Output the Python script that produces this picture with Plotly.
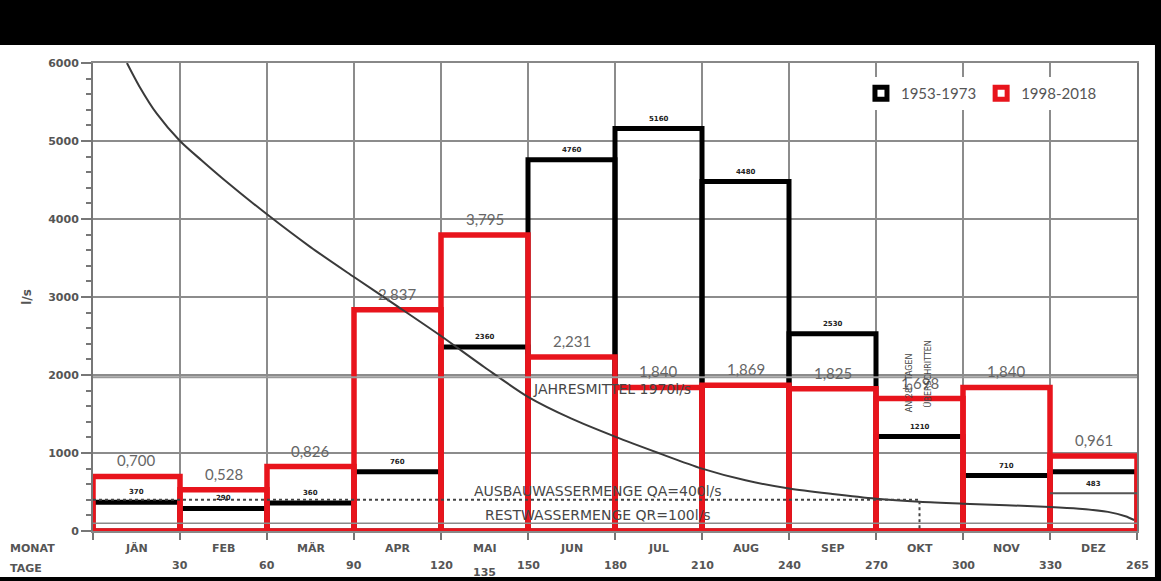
import plotly.graph_objects as go

# --- data -------------------------------------------------------------
months = ["JÄN", "FEB", "MÄR", "APR", "MAI", "JUN", "JUL", "AUG", "SEP", "OKT", "NOV", "DEZ"]
month_start_day = [0, 30, 60, 90, 120, 150, 180, 210, 240, 270, 300, 330]
day_ticks = [30, 60, 90, 120, 150, 180, 210, 240, 270, 300, 330, 360]
day_tick_labels = ["30", "60", "90", "120", "150", "180", "210", "240", "270", "300", "330", "265"]

# monthly mean discharge 1953-1973 in l/s
flow_1953_1973 = [370, 290, 360, 760, 2360, 4760, 5160, 4480, 2530, 1210, 710, 760]
show_label_1953_1973 = [True] * 11 + [False]

# monthly mean discharge 1998-2018 in m³/s
flow_1998_2018 = [0.700, 0.528, 0.826, 2.837, 3.795, 2.231, 1.840, 1.869, 1.825, 1.698, 1.840, 0.961]

# flow duration curve (days exceeded, l/s)
dur_days = [11.7, 16, 22, 30, 37.5, 45, 60, 75, 90, 105, 120, 135, 150, 165, 180, 195,
            210, 225, 240, 255, 270, 285, 300, 315, 330, 340, 350, 356, 359]
dur_flow = [6000, 5700, 5350, 5000, 4750, 4510, 4060, 3640, 3256, 2880, 2500, 2100, 1720,
            1440, 1210, 1000, 800, 650, 545, 475, 415, 375, 350, 330, 308, 285, 245, 190, 141]

annual_mean = 1970      # l/s
qa_design = 400         # l/s
qr_residual = 100       # l/s
qa_days = 285           # days with flow above QA
dec_extra = 483         # l/s

# --- styling ------------------------------------------------------------
RED = "#e8141c"
GRID = "#8c8c8c"
TXT = "#555555"

centers = [d + 15 for d in month_start_day]
red_ls = [v * 1000 for v in flow_1998_2018]

fig = go.Figure()

fig.add_trace(go.Bar(
    x=centers, y=flow_1953_1973, width=30, name="1953-1973",
    marker=dict(color="rgba(0,0,0,0)", line=dict(color="black", width=5)),
    hoverinfo="skip",
))
fig.add_trace(go.Bar(
    x=centers, y=red_ls, width=30, name="1998-2018",
    marker=dict(color="rgba(0,0,0,0)", line=dict(color=RED, width=5.5)),
    hoverinfo="skip",
))

# duration curve
fig.add_trace(go.Scatter(
    x=dur_days, y=dur_flow, mode="lines", showlegend=False,
    line=dict(color="#3a3a3a", width=2, shape="spline", smoothing=0.8),
    hoverinfo="skip",
))
# QA level (dotted) and its crossing day
fig.add_trace(go.Scatter(
    x=[0, qa_days, qa_days], y=[qa_design, qa_design, 0], mode="lines", showlegend=False,
    line=dict(color="#444444", width=2, dash="dot"), hoverinfo="skip",
))
# QR level
fig.add_trace(go.Scatter(
    x=[0, 360], y=[qr_residual, qr_residual], mode="lines", showlegend=False,
    line=dict(color="#8a8a8a", width=1.5), hoverinfo="skip",
))
# annual mean
fig.add_trace(go.Scatter(
    x=[0, 360], y=[annual_mean, annual_mean], mode="lines", showlegend=False,
    line=dict(color="#9a9a9a", width=2), hoverinfo="skip",
))
# December extra level
fig.add_trace(go.Scatter(
    x=[330, 360], y=[dec_extra, dec_extra], mode="lines", showlegend=False,
    line=dict(color="#555555", width=2), hoverinfo="skip",
))

ann = []
# red value labels
for c, v in zip(centers, flow_1998_2018):
    ann.append(dict(x=c, y=v * 1000, text=f"{v:.3f}".replace(".", ","), showarrow=False,
                    yanchor="bottom", yshift=5,
                    font=dict(family="Lato", size=15, color="#666666")))
# black value labels
for c, v, s in zip(centers, flow_1953_1973, show_label_1953_1973):
    if s:
        ann.append(dict(x=c, y=v, text=f"<b>{v}</b>", showarrow=False, yanchor="bottom",
                        yshift=4, font=dict(family="DejaVu Sans", size=7, color="#222222")))
ann.append(dict(x=345, y=dec_extra, text=f"<b>{dec_extra}</b>", showarrow=False,
                yanchor="bottom", yshift=3,
                font=dict(family="DejaVu Sans", size=7, color="#222222")))

# reference line labels
lab_font = dict(family="DejaVu Sans", size=14, color="#474747")
ann.append(dict(x=179, y=annual_mean, text=f"JAHRESMITTEL {annual_mean}l/s", showarrow=False,
                yanchor="middle", yshift=-12, font=lab_font))
ann.append(dict(x=174, y=qa_design, text=f"AUSBAUWASSERMENGE QA={qa_design}l/s",
                showarrow=False, yanchor="middle", yshift=9, font=lab_font))
ann.append(dict(x=174, y=qr_residual, text=f"RESTWASSERMENGE QR={qr_residual}l/s",
                showarrow=False, yanchor="middle", yshift=8, font=lab_font))
ann.append(dict(x=281.5, y=1900, text=f"AN {qa_days} TAGEN", showarrow=False, textangle=-90,
                font=dict(family="DejaVu Sans", size=8, color="#444444")))
ann.append(dict(x=288, y=2010, text="ÜBERSCHRITTEN", showarrow=False, textangle=-90,
                font=dict(family="DejaVu Sans", size=8, color="#444444")))

# bottom axis rows
ax_font = dict(family="DejaVu Sans", size=11, color=TXT)
for c, m in zip(centers, months):
    ann.append(dict(x=c, y=0, xref="x", yref="paper", text=f"<b>{m}</b>", showarrow=False,
                    yanchor="middle", yshift=-17, font=ax_font))
for d, t in zip(day_ticks, day_tick_labels):
    ann.append(dict(x=d, y=0, xref="x", yref="paper", text=f"<b>{t}</b>", showarrow=False,
                    yanchor="middle", yshift=-34, font=ax_font))
ann.append(dict(x=135, y=0, xref="x", yref="paper", text="<b>135</b>", showarrow=False,
                yanchor="middle", yshift=-41, font=ax_font))
ann.append(dict(x=-0.0814, y=0, xref="paper", yref="paper", text="<b>MONAT</b>",
                showarrow=False, xanchor="left", yanchor="middle", yshift=-17, font=ax_font))
ann.append(dict(x=-0.0814, y=0, xref="paper", yref="paper", text="<b>TAGE</b>",
                showarrow=False, xanchor="left", yanchor="middle", yshift=-37, font=ax_font))
ann.append(dict(x=-0.072, y=0.5, xref="paper", yref="paper", text="<b>l/s</b>",
                showarrow=False, textangle=-90,
                font=dict(family="DejaVu Sans", size=12, color=TXT)))

shapes = [
    # black frame bands
    dict(type="rect", xref="paper", yref="paper", x0=-0.2, x1=1.2, y0=1.0385, y1=1.3,
         fillcolor="black", line=dict(width=0), layer="above"),
    dict(type="rect", xref="paper", yref="paper", x0=1.0172, x1=1.2, y0=-0.3, y1=1.3,
         fillcolor="black", line=dict(width=0), layer="above"),
    dict(type="rect", xref="paper", yref="paper", x0=-0.2, x1=1.2, y0=-0.3, y1=-0.0983,
         fillcolor="black", line=dict(width=0), layer="above"),
]

fig.update_layout(
    width=1161, height=581,
    margin=dict(l=93, r=24, t=63, b=50),
    paper_bgcolor="white", plot_bgcolor="white",
    barmode="overlay",
    showlegend=True,
    legend=dict(orientation="h", x=0.7356, y=0.935, xanchor="left", yanchor="middle",
                bgcolor="white", itemwidth=30,
                font=dict(family="Lato", size=15, color=TXT)),
    annotations=ann,
    shapes=shapes,
)
fig.update_xaxes(
    range=[0, 360], tickvals=day_ticks + [0], showticklabels=False,
    ticks="outside", ticklen=7, tickcolor="#777777", tickwidth=1.5,
    showgrid=True, gridcolor=GRID, gridwidth=1.5,
    showline=True, linecolor="#888888", linewidth=1.5, mirror=True, zeroline=False,
)
fig.update_yaxes(
    range=[0, 6000], tickvals=[0, 1000, 2000, 3000, 4000, 5000, 6000],
    ticktext=["<b>0</b>", "<b>1000</b>", "<b>2000</b>", "<b>3000</b>", "<b>4000</b>",
              "<b>5000</b>", "<b>6000</b>"],
    ticks="outside", ticklen=10, tickcolor="#777777", tickwidth=1.5,
    tickfont=dict(family="DejaVu Sans", size=11, color=TXT),
    minor=dict(dtick=200, ticks="outside", ticklen=5, tickcolor="#777777", showgrid=False),
    showgrid=True, gridcolor=GRID, gridwidth=1.5,
    showline=True, linecolor="#777777", linewidth=2, mirror=True, zeroline=False,
)

fig.write_html("out.html")
